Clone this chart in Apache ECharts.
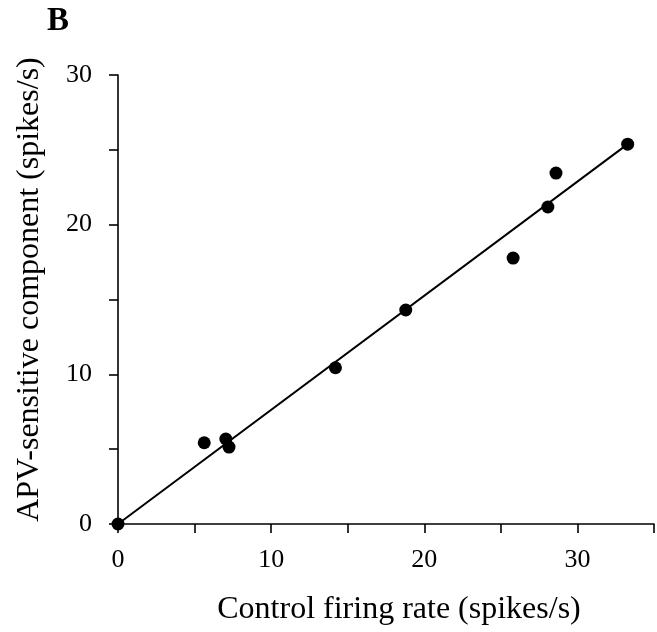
<!DOCTYPE html>
<html>
<head>
<meta charset="utf-8">
<script src="https://cdn.jsdelivr.net/npm/echarts@6/dist/echarts.min.js"></script>
<style>
  html, body { margin: 0; padding: 0; background: #fff; }
  #chart { width: 657px; height: 632px; }
</style>
</head>
<body>
<div id="chart"></div>
<script>
// Control firing rate vs. APV-sensitive component, per cell (spikes/s)
const controlRate = [0, 5.63, 7.04, 7.25, 14.2, 18.79, 25.8, 28.07, 28.6, 33.28];
const apvComponent = [0, 5.43, 5.68, 5.14, 10.44, 14.3, 17.77, 21.18, 23.45, 25.38];

// Regression line through the origin, drawn between its end points
const fitX = [0, 33.28];
const fitY = [0, 25.38];

const xTicks = [0, 10, 20, 30];
const yTicks = [0, 10, 20, 30];

const serif = '"Liberation Serif", "DejaVu Serif", serif';

const chart = echarts.init(document.getElementById('chart'), null, { renderer: 'canvas' });

const axisCommon = {
  type: 'value',
  interval: 5,
  axisLine: { show: true, lineStyle: { color: '#000', width: 1.6 } },
  axisTick: { show: true, inside: false, length: 9, lineStyle: { color: '#000', width: 1.6 } },
  splitLine: { show: false },
  nameLocation: 'middle'
};

chart.setOption({
  animation: false,
  backgroundColor: '#fff',
  title: {
    text: 'B',
    left: 47,
    top: 5,
    padding: 0,
    textStyle: { fontFamily: serif, fontWeight: 'bold', fontSize: 33, color: '#000' }
  },
  grid: { left: 118, right: 1, top: 75, bottom: 108, containLabel: false },
  xAxis: Object.assign({}, axisCommon, {
    min: 0, max: 35,
    name: 'Control firing rate (spikes/s)',
    nameGap: 70,
    nameTextStyle: { color: '#000', fontFamily: serif, fontSize: 32, padding: [0, 0, 0, 26] },
    axisLabel: {
      margin: 23, color: '#000', fontFamily: serif, fontSize: 26,
      formatter: v => xTicks.includes(v) ? String(v) : ''
    }
  }),
  yAxis: Object.assign({}, axisCommon, {
    min: 0, max: 30,
    name: 'APV-sensitive component (spikes/s)',
    nameGap: 72,
    nameTextStyle: { color: '#000', fontFamily: serif, fontSize: 32, padding: [0, 0, 0, 20] },
    axisLabel: {
      margin: 26, color: '#000', fontFamily: serif, fontSize: 26,
      formatter: v => yTicks.includes(v) ? String(v) : ''
    }
  }),
  series: [
    {
      type: 'line',
      data: fitX.map((x, i) => [x, fitY[i]]),
      showSymbol: false,
      symbol: 'none',
      lineStyle: { color: '#000', width: 2 },
      z: 2
    },
    {
      type: 'scatter',
      data: controlRate.map((x, i) => [x, apvComponent[i]]),
      symbol: 'circle',
      symbolSize: 13,
      itemStyle: { color: '#000', opacity: 1 },
      clip: false,
      z: 3
    }
  ]
});
</script>
</body>
</html>
